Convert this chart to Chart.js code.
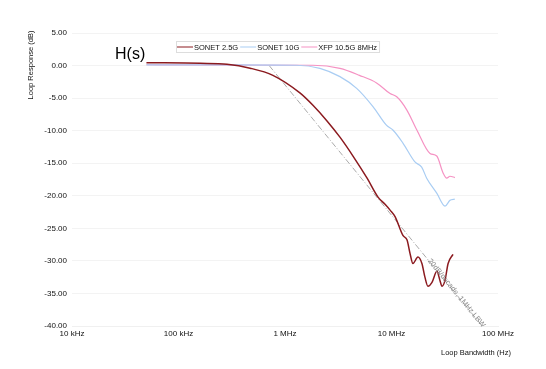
<!DOCTYPE html>
<html>
<head>
<meta charset="utf-8">
<script src="https://cdn.jsdelivr.net/npm/chart.js@4.4.1/dist/chart.umd.min.js"></script>
<style>
  html, body { margin: 0; padding: 0; background: #fff; }
  #wrap { width: 546px; height: 369px; }
</style>
</head>
<body>
<div id="wrap"><canvas id="loopChart" width="546" height="369"></canvas></div>
<script>
// frequency in Hz, response in dB
const sonet25Freq = [50e3, 160e3, 285e3, 470e3, 770e3, 1.38e6, 1.83e6, 2.48e6, 3.28e6, 4.35e6, 5.9e6, 7.47e6, 8.7e6, 9.7e6, 10.8e6, 12.8e6, 14e6, 14.9e6, 15.9e6, 17.7e6, 19.3e6, 20.6e6, 22e6, 24e6, 26.7e6, 28.5e6, 29.8e6, 31.8e6, 34e6, 37.8e6]
const sonet25Db = [0.45, 0.35, 0.2, -0.4, -1.5, -4.2, -6.1, -8.5, -11.0, -13.9, -17.3, -20.2, -21.3, -22.2, -23.2, -26.1, -26.8, -28.8, -30.4, -29.4, -30.4, -32.5, -33.9, -33.3, -31.6, -33.0, -33.9, -33.0, -30.4, -29.0]

const sonet10Freq = [50e3, 305e3, 1.29e6, 2.13e6, 3.28e6, 4.71e6, 6.7e6, 9.0e6, 10.3e6, 12.8e6, 16.6e6, 19.2e6, 21.4e6, 26.6e6, 31.8e6, 35.4e6, 39.4e6]
const sonet10Db = [0.1, 0.1, 0.05, -0.43, -1.7, -3.5, -6.3, -9.2, -9.9, -11.9, -14.8, -15.6, -17.3, -19.6, -21.6, -20.7, -20.5]

const xfpFreq = [50e3, 1.83e6, 3.28e6, 5.0e6, 7.3e6, 9.7e6, 11.2e6, 13.9e6, 17.3e6, 23e6, 26.6e6, 30.5e6, 33e6, 35.4e6, 39.4e6]
const xfpDb = [0.12, 0.05, -0.43, -1.5, -2.7, -4.3, -4.8, -6.8, -9.9, -13.5, -13.9, -16.5, -17.3, -17.0, -17.2]

// 20 dB/decade reference, -3 dB at 1 MHz
const refFreq = [0.71e6, 71e6]
const refDb = [0, -40]
const refLabel = '20dB/decade, 1MHz LBW'

const xTicks = [1e4, 1e5, 1e6, 1e7, 1e8]
const xTickLabels = ['10 kHz', '100 kHz', '1 MHz', '10 MHz', '100 MHz']
const yMin = -40, yMax = 5, yStep = 5

const toPoints = (fs, ds) => fs.map((f, i) => ({ x: f, y: ds[i] }))
const FONT = 'Liberation Sans, Arial, Helvetica, sans-serif'

const overlay = {
  id: 'overlay',
  afterDraw(chart) {
    const { ctx, scales: { x, y } } = chart
    ctx.save()
    // H(s)
    ctx.fillStyle = '#000'
    ctx.font = '16px ' + FONT
    ctx.textBaseline = 'middle'
    ctx.textAlign = 'left'
    ctx.fillText('H(s)', 115, 55)

    // legend box inside plot
    ctx.font = '7.5px ' + FONT
    const sets = chart.data.datasets.filter(d => d.inLegend)
    const startX = 176
    const ly = 41, lh = 11
    let cx = startX + 1
    const items = sets.map(d => {
      const w = ctx.measureText(d.label).width
      const it = { d, x: cx, w }
      cx += 16 + 1 + w + 2
      return it
    })
    ctx.strokeStyle = '#ddd'
    ctx.lineWidth = 1
    ctx.fillStyle = '#fff'
    ctx.fillRect(startX + 0.5, ly + 0.5, cx - startX, lh)
    ctx.strokeRect(startX + 0.5, ly + 0.5, cx - startX, lh)
    items.forEach(it => {
      ctx.strokeStyle = it.d.borderColor
      ctx.lineWidth = 1
      ctx.beginPath()
      ctx.moveTo(it.x, ly + 6)
      ctx.lineTo(it.x + 16, ly + 6)
      ctx.stroke()
      ctx.fillStyle = '#111'
      ctx.textAlign = 'left'
      ctx.fillText(it.d.label, it.x + 17, ly + 6.5)
    })

    // reference line label, rotated along the line
    const x0 = x.getPixelForValue(refFreq[0]), y0 = y.getPixelForValue(refDb[0])
    const x1 = x.getPixelForValue(refFreq[1]), y1 = y.getPixelForValue(refDb[1])
    const ang = Math.atan2(y1 - y0, x1 - x0)
    const fc = 40e6
    const dbc = -3 - 20 * Math.log10(fc / 1e6)
    ctx.translate(x.getPixelForValue(fc), y.getPixelForValue(dbc))
    ctx.rotate(ang)
    ctx.fillStyle = '#888'
    ctx.font = '7.5px ' + FONT
    ctx.textAlign = 'center'
    ctx.fillText(refLabel, 0, -1)
    ctx.restore()

    // axis titles
    ctx.save()
    ctx.fillStyle = '#111'
    ctx.font = '7.5px ' + FONT
    ctx.textAlign = 'center'
    ctx.textBaseline = 'middle'
    ctx.fillText('Loop Bandwidth (Hz)', 476, 353)
    ctx.translate(31, 65)
    ctx.rotate(-Math.PI / 2)
    ctx.fillText('Loop Response (dB)', 0, 0)
    ctx.restore()
  }
}

const ctx = document.getElementById('loopChart').getContext('2d')
const config = {
  type: 'line',
  data: {
    datasets: [
      {
        label: 'SONET 2.5G',
        inLegend: true,
        data: toPoints(sonet25Freq, sonet25Db),
        borderColor: '#8b1a1f',
        borderWidth: 1.5,
        pointRadius: 0,
        cubicInterpolationMode: 'monotone'
      },
      {
        label: 'SONET 10G',
        inLegend: true,
        data: toPoints(sonet10Freq, sonet10Db),
        borderColor: '#a9cdf3',
        borderWidth: 1.2,
        pointRadius: 0,
        cubicInterpolationMode: 'monotone'
      },
      {
        label: 'XFP 10.5G 8MHz',
        inLegend: true,
        data: toPoints(xfpFreq, xfpDb),
        borderColor: '#f592c3',
        borderWidth: 1.2,
        pointRadius: 0,
        cubicInterpolationMode: 'monotone'
      },
      {
        label: refLabel,
        inLegend: false,
        data: toPoints(refFreq, refDb),
        borderColor: '#aaa',
        borderWidth: 1,
        borderDash: [6, 2, 1, 2],
        pointRadius: 0,
        tension: 0
      }
    ]
  },
  options: {
    responsive: false,
    animation: false,
    layout: { padding: { left: 0, right: 48, top: 33, bottom: 0 } },
    scales: {
      x: {
        type: 'logarithmic',
        min: 1e4,
        max: 1e8,
        afterFit: s => { s.height = 43 },
        afterBuildTicks: s => { s.ticks = xTicks.map(v => ({ value: v })) },
        grid: { display: false, drawTicks: false },
        border: { display: true, color: '#f0f0f0' },
        ticks: {
          padding: 3,
          color: '#111',
          font: { family: FONT, size: 8 },
          maxRotation: 0,
          autoSkip: false,
          callback: v => xTickLabels[xTicks.indexOf(v)] || ''
        }
      },
      y: {
        min: yMin,
        max: yMax,
        afterFit: s => { s.width = 72 },
        grid: { color: '#f3f3f3', drawTicks: false },
        border: { display: false },
        ticks: {
          stepSize: yStep,
          padding: 5,
          color: '#111',
          font: { family: FONT, size: 8 },
          callback: v => v.toFixed(2)
        }
      }
    },
    plugins: {
      legend: { display: false },
      tooltip: { enabled: false }
    }
  },
  plugins: [overlay]
}
const loopChart = new Chart(ctx, config)
</script>
</body>
</html>
